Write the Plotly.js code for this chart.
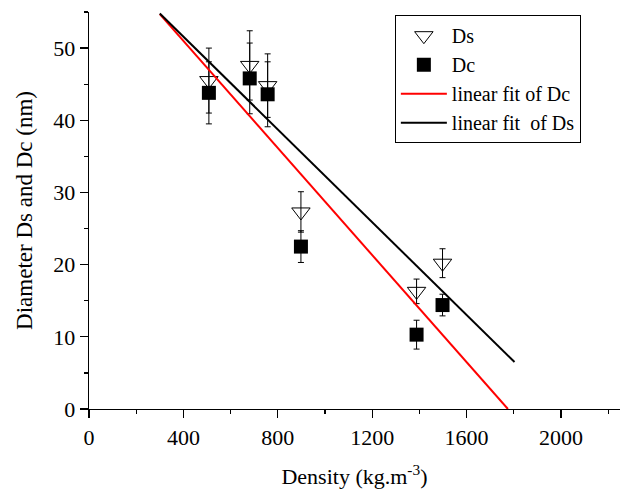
<!DOCTYPE html>
<html>
<head>
<meta charset="utf-8">
<script src="https://cdn.plot.ly/plotly-3.0.1.min.js"></script>
<style>html,body{margin:0;padding:0;background:#fff}#chart{width:624px;height:492px}</style>
</head>
<body>
<div id="chart"></div>
<script>
// Data
const density = [508, 681, 757, 898, 1388, 1498];
const Ds = [45.5, 47.6, 44.8, 27.3, 16.3, 20.2];
const DsErr = [4.5, 4.8, 4.4, 2.8, 1.7, 2.0];
const Dc = [43.8, 45.8, 43.6, 22.5, 10.3, 14.4];
const DcErr = [4.3, 4.9, 4.5, 2.2, 2.0, 1.5];
const fitDcX = [300, 1775];
const fitDcY = [54.7, 0];
const fitDsX = [300, 1803];
const fitDsY = [54.8, 6.5];
const xTicks = [0, 400, 800, 1200, 1600, 2000];
const yTicks = [0, 10, 20, 30, 40, 50];

const font = '"Liberation Serif", "Times New Roman", serif';

const traces = [
  {x: density, y: Ds, type: 'scatter', mode: 'markers', name: 'Ds',
   marker: {symbol: 'triangle-down-open', size: 16, color: '#000', line: {width: 1, color: '#000'}},
   error_y: {type: 'data', array: DsErr, visible: true, color: '#000', thickness: 1, width: 3}},
  {x: density, y: Dc, type: 'scatter', mode: 'markers', name: 'Dc',
   marker: {symbol: 'square', size: 14, color: '#000'},
   error_y: {type: 'data', array: DcErr, visible: true, color: '#000', thickness: 1, width: 3}},
  {x: fitDcX, y: fitDcY, type: 'scatter', mode: 'lines', name: 'linear fit of Dc',
   line: {color: '#ff0000', width: 2}},
  {x: fitDsX, y: fitDsY, type: 'scatter', mode: 'lines', name: 'linear fit  of Ds',
   line: {color: '#000', width: 2}}
];

const layout = {
  width: 624, height: 492,
  margin: {l: 89, r: 4, t: 12, b: 83},
  paper_bgcolor: '#fff', plot_bgcolor: '#fff',
  font: {family: font, size: 20, color: '#000'},
  showlegend: true,
  legend: {x: 0.576, y: 0.992, xanchor: 'left', yanchor: 'top',
           bordercolor: '#000', borderwidth: 1, bgcolor: '#fff', itemwidth: 46,
           font: {family: font, size: 20, color: '#000'}, tracegroupgap: 0},
  xaxis: {
    range: [0, 2250], tickvals: xTicks, ticktext: xTicks.map(String),
    showgrid: false, zeroline: false, showline: true, linecolor: '#000', linewidth: 1.3,
    ticks: 'outside', ticklen: 8, tickwidth: 1.3, tickcolor: '#000',
    minor: {dtick: 200, tick0: 0, ticks: 'outside', ticklen: 4, tickwidth: 1.3, tickcolor: '#000', showgrid: false},
    tickfont: {family: font, size: 22},
    title: {text: 'Density (kg.m<sup>-3</sup>)', font: {family: font, size: 22}, standoff: 20}
  },
  yaxis: {
    range: [0, 55], tickvals: yTicks, ticktext: yTicks.map(String),
    showgrid: false, zeroline: false, showline: true, linecolor: '#000', linewidth: 1.3,
    ticks: 'outside', ticklen: 8, tickwidth: 1.3, tickcolor: '#000',
    minor: {dtick: 5, tick0: 0, ticks: 'outside', ticklen: 4, tickwidth: 1.3, tickcolor: '#000', showgrid: false},
    tickfont: {family: font, size: 22},
    title: {text: 'Diameter Ds and Dc (nm)', font: {family: font, size: 23}, standoff: 14}
  }
};

Plotly.newPlot('chart', traces, layout, {displayModeBar: false, staticPlot: true});
</script>
</body>
</html>
